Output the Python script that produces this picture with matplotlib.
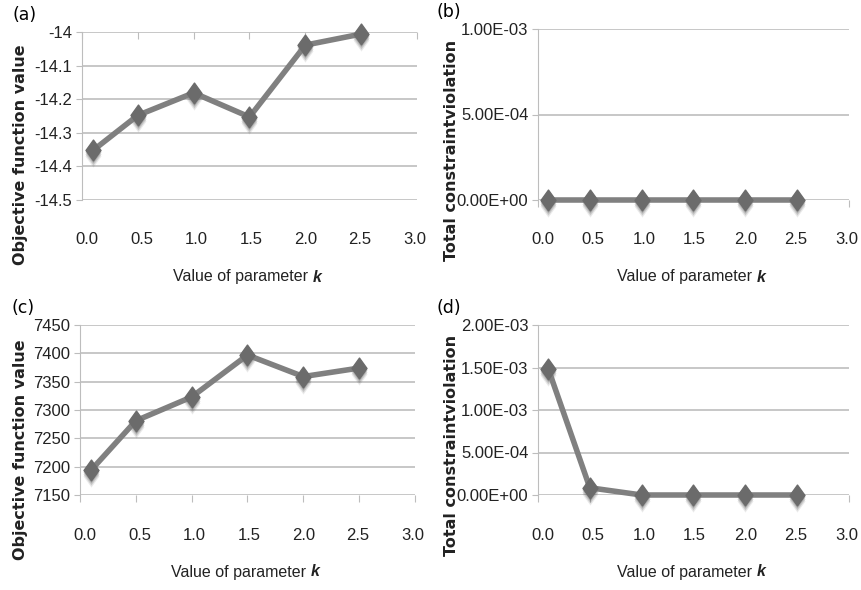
import numpy as np
import matplotlib
matplotlib.use("Agg")
import matplotlib.pyplot as plt
from matplotlib import transforms
from matplotlib.path import Path

# data
k = [0.1, 0.5, 1.0, 1.5, 2.0, 2.5]
obj_a = [-14.352, -14.248, -14.181, -14.253, -14.039, -14.006]
viol_b = [0.0, 0.0, 0.0, 0.0, 0.0, 0.0]
obj_c = [7194, 7281, 7323, 7397, 7359, 7374]
viol_d = [1.48e-3, 8.5e-5, 0.0, 0.0, 0.0, 0.0]

xticks = [0.0, 0.5, 1.0, 1.5, 2.0, 2.5, 3.0]
xtick_labels = ["0.0", "0.5", "1.0", "1.5", "2.0", "2.5", "3.0"]
yticks_a = [-14.5, -14.4, -14.3, -14.2, -14.1, -14.0]
ylabels_a = ["-14.5", "-14.4", "-14.3", "-14.2", "-14.1", "-14"]
yticks_b = [0.0, 5e-4, 1e-3]
ylabels_b = ["0.00E+00", "5.00E-04", "1.00E-03"]
yticks_c = [7150, 7200, 7250, 7300, 7350, 7400, 7450]
ylabels_c = ["7150", "7200", "7250", "7300", "7350", "7400", "7450"]
yticks_d = [0.0, 5e-4, 1e-3, 1.5e-3, 2e-3]
ylabels_d = ["0.00E+00", "5.00E-04", "1.00E-03", "1.50E-03", "2.00E-03"]

W, H = 862, 590
fig = plt.figure(figsize=(W / 100, H / 100), dpi=100)

tick_font = ["Liberation Sans", "DejaVu Sans"]
diamond = Path([(0, 1), (0.72, 0), (0, -1), (-0.72, 0), (0, 1)],
               [Path.MOVETO, Path.LINETO, Path.LINETO, Path.LINETO, Path.CLOSEPOLY])
GRID = "#bdbdbd"


def make_panel(px, letter, y, yticks, ylabels, xaxis_top=False):
    l, t, r, b = px
    ax = fig.add_axes([l / W, 1 - b / H, (r - l) / W, (b - t) / H])
    ax.set_xlim(0, 3)
    ax.set_ylim(yticks[0], yticks[-1])
    for s in ax.spines.values():
        s.set_visible(False)
    ax.spines["left"].set_visible(True)
    ax.spines["left"].set_color(GRID)
    ax.set_yticks(yticks)
    ax.set_yticklabels(ylabels, fontsize=12, family=tick_font, color="#222222")
    ax.tick_params(axis="y", length=4, color=GRID, pad=3)
    for yv in yticks:
        ax.axhline(yv, color=GRID, lw=1.2, zorder=1)
    ax.set_xticks(xticks)
    ax.set_xticklabels([])
    if xaxis_top:
        ax.tick_params(axis="x", direction="in", top=True, bottom=False, length=5, color=GRID)
    else:
        ax.tick_params(axis="x", direction="out", length=5, color=GRID)
    # tick labels sit well below the plot area, like the original
    off = 40 / (b - t)
    for xv, lab in zip(xticks, xtick_labels):
        ax.text(0.045 + 0.978 * xv, -off, lab, transform=ax.get_xaxis_transform(),
                ha="center", va="center", fontsize=12, family=tick_font, color="#222222")
    # soft shadow under the markers
    for dy, a in [(-2, 0.25), (-4, 0.2), (-6, 0.12)]:
        shadow = transforms.offset_copy(ax.transData, fig=fig, x=0, y=dy, units="dots")
        ax.plot(k, y, ls="none", marker=diamond, ms=16, color="#555555", alpha=a,
                mew=0, transform=shadow, zorder=2, clip_on=False)
    ax.plot(k, y, color="#808080", lw=4, zorder=3, solid_capstyle="butt", clip_on=False)
    ax.plot(k, y, ls="none", marker=diamond, ms=15, color="#6b6b6b", zorder=4, clip_on=False)
    fig.text((l - 57) / W if l < 300 else (l - 89) / W, 1 - (t - 17) / H,
             "(" + letter + ")", fontsize=12.5, ha="center", va="center")
    split = (l + r) / 2 + 63
    fig.text(split / W, 1 - (b + 77) / H, "Value of parameter ", fontsize=11.5,
             family=tick_font, ha="right", va="center", color="#222222")
    fig.text(split / W, 1 - (b + 77) / H, "k", fontsize=11.5, style="italic",
             weight="bold", family=tick_font, ha="left", va="center", color="#222222")
    return ax


make_panel((82, 32, 417, 200), "a", obj_a, yticks_a, ylabels_a, xaxis_top=True)
make_panel((538, 29, 849, 200), "b", viol_b, yticks_b, ylabels_b)
make_panel((80, 325, 415, 495), "c", obj_c, yticks_c, ylabels_c)
make_panel((538, 325, 849, 495), "d", viol_d, yticks_d, ylabels_d)

# y axis titles
fig.text(21 / W, 1 - 155 / H, "Objective function value", rotation=90, fontsize=11.5,
         weight="bold", ha="center", va="center", color="#222222")
fig.text(21 / W, 1 - 450 / H, "Objective function value", rotation=90, fontsize=11.5,
         weight="bold", ha="center", va="center", color="#222222")
fig.text(452 / W, 1 - 150 / H, "Total constraintviolation", rotation=90, fontsize=11.5,
         weight="bold", ha="center", va="center", color="#222222")
fig.text(452 / W, 1 - 445 / H, "Total constraintviolation", rotation=90, fontsize=11.5,
         weight="bold", ha="center", va="center", color="#222222")

fig.savefig("out.png", dpi=100)
